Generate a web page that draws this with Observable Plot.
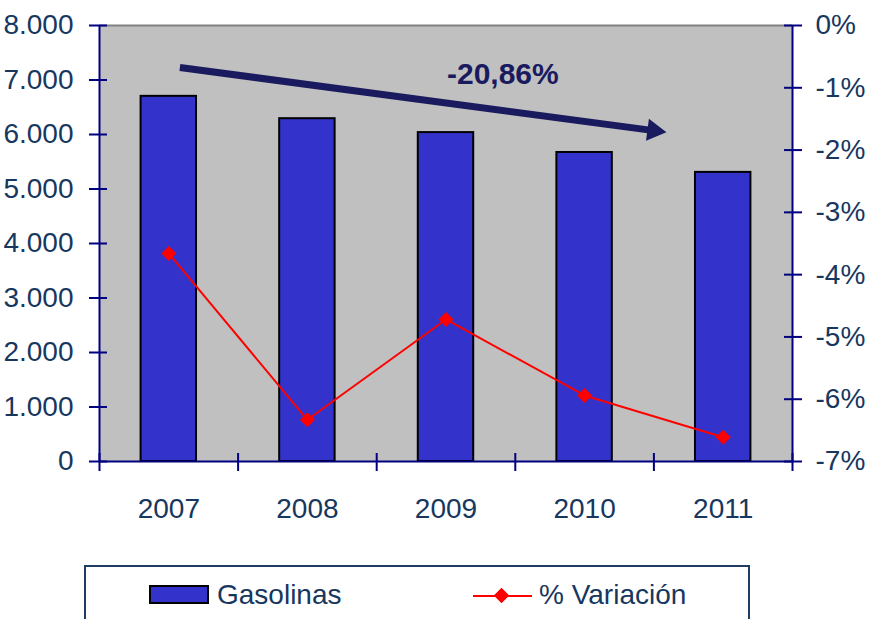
<!DOCTYPE html>
<html><head><meta charset="utf-8">
<script src="https://cdn.jsdelivr.net/npm/d3@7"></script>
<script src="https://cdn.jsdelivr.net/npm/@observablehq/plot@0.6"></script>
<style>
body{margin:0;background:#fff;font-family:"Liberation Sans",Arial,sans-serif;}
#chart{position:absolute;left:0;top:0;}
#legend{position:absolute;left:84px;top:565px;width:666px;height:80px;border:2px solid #1f3c64;box-sizing:border-box;background:#fff;}
.lg{position:absolute;font-size:28px;color:#17375e;line-height:1;white-space:nowrap;}
.sw{position:absolute;left:63px;top:18px;width:60px;height:19px;background:#3333cc;border:2px solid #000;box-sizing:border-box;}
.ln{position:absolute;left:387px;top:28px;width:59px;height:2px;background:#ff0000;}
.dm{position:absolute;left:410px;top:23px;width:11px;height:11px;background:#ff0000;transform:rotate(45deg);}
</style></head><body>
<div id="chart"></div>
<div id="legend"></div>
<script>
const years = [2007, 2008, 2009, 2010, 2011];
const gasolinas = [6700, 6290, 6035, 5670, 5305];
const variacion = [-3.66, -6.33, -4.72, -5.94, -6.61];
const leftTicks = [0, 1000, 2000, 3000, 4000, 5000, 6000, 7000, 8000];
const leftTickLabels = ["0", "1.000", "2.000", "3.000", "4.000", "5.000", "6.000", "7.000", "8.000"];
const rightTicks = [0, -1, -2, -3, -4, -5, -6, -7];
const rightTickLabels = ["0%", "-1%", "-2%", "-3%", "-4%", "-5%", "-6%", "-7%"];
const seriesNames = ["Gasolinas", "% Variación"];
const trendLabel = ["-20,86%"];
const trendLabelPos = [{x: 2009.41, y: 7100}];
const trendArrow = [{x1: 2007.08, y1: 7230, x2: 2010.59, y2: 6040}];

const yMin = 0, yMax = 8000, pMin = -7, pMax = 0;
const toLeft = p => (p - pMin) / (pMax - pMin) * (yMax - yMin) + yMin;
const xMin = years[0] - 0.5, xMax = years[years.length - 1] + 0.5;
const bounds = d3.range(years.length + 1).map(i => xMin + i);

const bars = years.map((y, i) => ({year: y, value: gasolinas[i]}));
const line = years.map((y, i) => ({year: y, pct: variacion[i], v: toLeft(variacion[i])}));

const W = 870, H = 540;
const mL = 99, mR = 78, mT = 25, mB = H - 461;
const plotW = W - mL - mR, plotH = H - mT - mB;
const navy = "#000080", txt = "#17375e", arrowCol = "#1a1a5e";
const headR = 8.2, headOffset = 12.7;

function build(arrowMarks) {
  return Plot.plot({
    width: W, height: H,
    marginLeft: mL, marginRight: mR, marginTop: mT, marginBottom: mB,
    style: {fontFamily: '"Liberation Sans", Arial, sans-serif', fontSize: "28px", color: txt, background: "transparent"},
    x: {type: "linear", domain: [xMin, xMax], axis: null},
    y: {domain: [yMin, yMax], axis: null},
    marks: [
      Plot.frame({fill: "#c0c0c0", stroke: null}),
      Plot.ruleY([yMax], {stroke: "#808080", strokeWidth: 2}),
      Plot.rectY(bars, {x1: d => d.year - 0.2, x2: d => d.year + 0.2, y1: 0, y2: "value", fill: "#3333cc", stroke: "#000", strokeWidth: 2}),
      Plot.line(line, {x: "year", y: "v", stroke: "#ff0000", strokeWidth: 2}),
      Plot.dot(line, {x: "year", y: "v", symbol: "diamond2", r: 6.8, fill: "#ff0000", stroke: null}),
      ...arrowMarks,
      Plot.text(trendLabel, {x: () => trendLabelPos[0].x, y: () => trendLabelPos[0].y, text: d => d, fontSize: 30, fontWeight: "bold", fill: arrowCol, textAnchor: "middle", lineAnchor: "middle"}),
      Plot.ruleX([xMin], {stroke: navy, strokeWidth: 2}),
      Plot.ruleX([xMax], {stroke: navy, strokeWidth: 2}),
      Plot.ruleY([yMin], {stroke: navy, strokeWidth: 2}),
      Plot.ruleY(leftTicks, {y: d => d, insetLeft: -10, insetRight: plotW - 8, stroke: navy, strokeWidth: 2}),
      Plot.ruleY(rightTicks.map(toLeft), {y: d => d, insetLeft: plotW - 8, insetRight: -10, stroke: navy, strokeWidth: 2}),
      Plot.ruleX(bounds, {x: d => d, insetTop: plotH - 8, insetBottom: -10, stroke: navy, strokeWidth: 2}),
      Plot.axisY(leftTicks, {anchor: "left", tickSize: 0, tickPadding: 26, tickFormat: d => leftTickLabels[leftTicks.indexOf(d)], fontSize: 28, fill: txt}),
      Plot.axisY(rightTicks.map(toLeft), {anchor: "right", tickSize: 0, tickPadding: 23, tickFormat: d => rightTickLabels[rightTicks.map(toLeft).indexOf(d)], fontSize: 28, fill: txt}),
      Plot.axisX(years, {anchor: "bottom", tickSize: 0, tickPadding: 37, tickFormat: d => String(d), fontSize: 28, fill: txt})
    ]
  });
}

// first pass to get scales for the arrowhead orientation
const probe = build([]);
const sx = probe.scale("x"), sy = probe.scale("y");
const a = trendArrow[0];
const px1 = sx.apply(a.x1), py1 = sy.apply(a.y1), px2 = sx.apply(a.x2), py2 = sy.apply(a.y2);
const len = Math.hypot(px2 - px1, py2 - py1);
const ux = (px2 - px1) / len, uy = (py2 - py1) / len;
const angle = Math.atan2(py2 - py1, px2 - px1) * 180 / Math.PI;
const head = [{x: sx.invert(px2 - ux * headOffset), y: sy.invert(py2 - uy * headOffset)}];
const shaft = [{x1: a.x1, y1: a.y1, x2: head[0].x, y2: head[0].y}];

const chart = build([
  Plot.link(shaft, {x1: "x1", y1: "y1", x2: "x2", y2: "y2", stroke: arrowCol, strokeWidth: 7, strokeLinecap: "butt"}),
  Plot.dot(head, {x: "x", y: "y", symbol: "triangle", r: headR, fill: arrowCol, stroke: null, rotate: 90 + angle})
]);
document.getElementById("chart").appendChild(chart);

const lg = document.getElementById("legend");
lg.innerHTML = `<div class="sw"></div><div class="lg" style="left:131px;top:14px">${seriesNames[0]}</div>
<div class="ln"></div><div class="dm"></div><div class="lg" style="left:453px;top:14px">${seriesNames[1]}</div>`;
</script>
</body></html>
